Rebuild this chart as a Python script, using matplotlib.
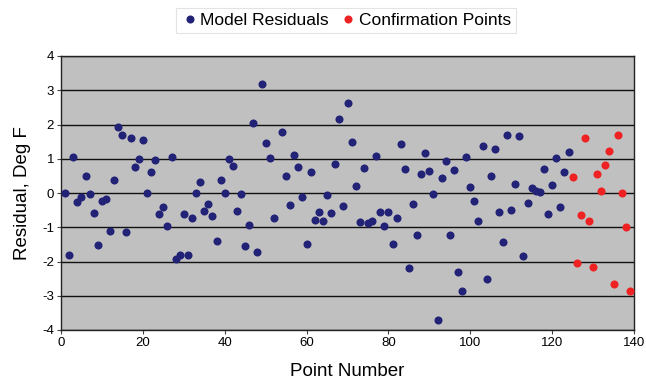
import matplotlib
matplotlib.use("Agg")
import matplotlib.pyplot as plt

plt.rcParams['font.family'] = ['Liberation Sans', 'DejaVu Sans']
plt.rcParams['axes.unicode_minus'] = False

model_x = list(range(1, 53)) + list(range(54, 125))
model_y = [
    0.00, -1.80, 1.04, -0.25, -0.13, 0.49, -0.02, -0.59, -1.52, -0.23,
    -0.17, -1.10, 0.39, 1.94, 1.68, -1.13, 1.61, 0.76, 0.98, 1.56,
    0.00, 0.61, 0.96, -0.60, -0.41, -0.95, 1.04, -1.92, -1.81, -0.62,
    -1.81, -0.73, 0.00, 0.33, -0.54, -0.32, -0.67, -1.40, 0.39, 0.00,
    0.99, 0.79, -0.53, -0.04, -1.55, -0.93, 2.05, -1.73, 3.19, 1.47,
    1.01, -0.72,
    1.79, 0.51, -0.34, 1.11, 0.77, -0.12, -1.48, 0.61, -0.78, -0.55,
    -0.82, -0.07, -0.57, 0.85, 2.17, -0.37, 2.62, 1.49, 0.21, -0.86,
    0.74, -0.88, -0.83, 1.09, -0.55, -0.95, -0.55, -1.50, -0.73, 1.44,
    0.69, -2.20, -0.32, -1.24, 0.55, 1.17, 0.64, -0.04, -3.71, 0.44,
    0.94, -1.24, 0.66, -2.32, -2.87, 1.06, 0.18, -0.22, -0.83, 1.36,
    -2.52, 0.50, 1.28, -0.55, -1.43, 1.69, -0.50, 0.25, 1.66, -1.83,
    -0.28, 0.14, 0.07, 0.02, 0.71, -0.62, 0.23, 1.03, -0.42, 0.60,
    1.21,
]
conf_x = list(range(125, 140))
conf_y = [0.46, -2.04, -0.64, 1.61, -0.83, -2.16, 0.55, 0.06, 0.81, 1.24,
          -2.65, 1.69, 0.01, -0.99, -2.85]

x_ticks = [0, 20, 40, 60, 80, 100, 120, 140]
y_ticks = [-4, -3, -2, -1, 0, 1, 2, 3, 4]

fig = plt.figure(figsize=(6.46, 3.81), dpi=100)
ax = fig.add_axes([61/646, 1 - 330/381, (634 - 61)/646, (330 - 56)/381])
ax.set_facecolor('#C0C0C0')

for yv in y_ticks:
    ax.axhline(yv, color='#111111', linewidth=1.0, zorder=1)

ax.plot(model_x, model_y, 'o', color='#222277', markersize=5.8,
        markeredgewidth=0, label='Model Residuals', zorder=3)
ax.plot(conf_x, conf_y, 'o', color='#EE2222', markersize=5.8,
        markeredgewidth=0, label='Confirmation Points', zorder=3)

ax.set_xlim(0, 140)
ax.set_ylim(-4, 4)
ax.set_xticks(x_ticks)
ax.set_yticks(y_ticks)
ax.tick_params(axis='both', labelsize=9.5, length=3, width=0.8,
               color='#444444', direction='out', pad=2)
for sp in ax.spines.values():
    sp.set_color('#222222')
    sp.set_linewidth(1.0)

ax.set_xlabel('Point Number', fontsize=13.5, labelpad=10)
ax.set_ylabel('Residual, Deg F', fontsize=13.5, labelpad=8)

leg = fig.legend(loc='center', bbox_to_anchor=(346/646, 1 - 20.5/381),
                 ncol=2, fontsize=12.5, frameon=True, fancybox=False,
                 handletextpad=0.1, columnspacing=0.6, handlelength=1.0,
                 borderpad=0.3, markerscale=1.0)
leg.get_frame().set_edgecolor('#DDDDDD')
leg.get_frame().set_linewidth(0.8)

fig.savefig('out.png', dpi=100)
